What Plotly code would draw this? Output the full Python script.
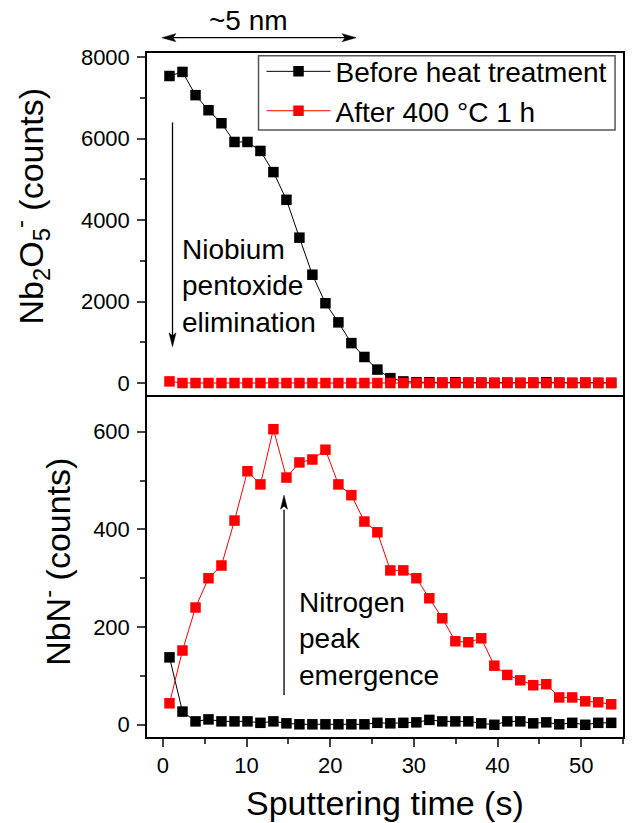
import plotly.graph_objects as go

# ---------------- data ----------------
time_s = [0.79, 2.34, 3.90, 5.45, 7.00, 8.56, 10.11, 11.66, 13.21, 14.77,
          16.32, 17.87, 19.43, 20.98, 22.53, 24.09, 25.64, 27.19, 28.74, 30.30,
          31.85, 33.40, 34.96, 36.51, 38.06, 39.62, 41.17, 42.72, 44.27, 45.83,
          47.38, 48.93, 50.49, 52.04, 53.59]

nb2o5_before = [7540, 7640, 7070, 6700, 6380, 5920, 5920, 5700, 5180, 4500,
                3570, 2660, 1960, 1490, 980, 640, 330, 120, 40, 20,
                20, 10, 20, 10, 10, 5, 10, 5, 10, 20,
                10, 5, 10, 5, 5]
nb2o5_after = [40, 0, 0, 0, 0, 0, 0, 0, 0, 0,
               0, 0, 0, 0, 0, 0, 0, 0, 0, 0,
               0, 0, 0, 0, 0, 0, 0, 0, 0, 0,
               0, 0, 0, 0, 0]

nbn_before = [138, 27, 7, 11, 7, 7, 7, 4, 7, 3,
              1, 1, 1, 1, 1, 1, 4, 3, 4, 5,
              10, 7, 7, 7, 3, 0, 7, 7, 3, 5,
              1, 4, 0, 4, 4]
nbn_after = [44, 152, 240, 300, 326, 418, 519, 492, 605, 506,
             537, 543, 563, 492, 470, 416, 394, 316, 316, 300,
             259, 218, 171, 169, 177, 121, 102, 91, 81, 83,
             56, 56, 48, 46, 42]

series_names = ["Before heat treatment", "After 400 °C 1 h"]
series_colors = ["#000000", "#ff0000"]

top_ticks = [0, 2000, 4000, 6000, 8000]
bottom_ticks = [0, 200, 400, 600]
x_ticks = [0, 10, 20, 30, 40, 50]

FONT = "Liberation Sans, Arial, sans-serif"

fig = go.Figure()

# top panel (Nb2O5-)
for name, vals, col in zip(series_names, [nb2o5_before, nb2o5_after], series_colors):
    fig.add_trace(go.Scatter(
        x=time_s, y=vals, name=name, mode="lines+markers",
        line=dict(color=col, width=1),
        marker=dict(symbol="square", size=10.5, color=col),
        xaxis="x2", yaxis="y2", showlegend=True, cliponaxis=False))

# bottom panel (NbN-)
for name, vals, col in zip(series_names, [nbn_before, nbn_after], series_colors):
    fig.add_trace(go.Scatter(
        x=time_s, y=vals, name=name, mode="lines+markers",
        line=dict(color=col, width=1),
        marker=dict(symbol="square", size=10.5, color=col),
        xaxis="x", yaxis="y", showlegend=False, cliponaxis=False))

axis_common = dict(showline=True, linecolor="black", linewidth=1.5,
                   showgrid=False, zeroline=False,
                   tickfont=dict(family=FONT, size=22, color="black"))

fig.update_layout(
    width=635, height=823,
    margin=dict(l=147, r=10, t=53, b=86),
    paper_bgcolor="white", plot_bgcolor="white",
    font=dict(family=FONT, color="black"),
    xaxis=dict(domain=[0, 1], anchor="y", range=[-1.9, 55.0], mirror=False,
               tickvals=x_ticks, ticks="outside", ticklen=8, tickwidth=1.5,
               minor=dict(dtick=5, tick0=0, ticks="outside", ticklen=5, tickwidth=1.5),
               ticklabelstandoff=0,
               **axis_common),
    xaxis2=dict(domain=[0, 1], anchor="y2", range=[-1.9, 55.0], matches="x", mirror=True,
                showticklabels=False, ticks="", **axis_common),
    yaxis=dict(domain=[0, 0.5], anchor="x", range=[-25, 675], mirror=True,
               tickvals=bottom_ticks, ticks="outside", ticklen=8, tickwidth=1.5,
               minor=dict(dtick=100, tick0=0, ticks="outside", ticklen=5, tickwidth=1.5),
               ticklabelstandoff=3,
               **axis_common),
    yaxis2=dict(domain=[0.5, 1], anchor="x2", range=[-294, 8105], mirror=True,
                tickvals=top_ticks, ticks="outside", ticklen=8, tickwidth=1.5,
                minor=dict(dtick=1000, tick0=0, ticks="outside", ticklen=5, tickwidth=1.5),
                ticklabelstandoff=3,
                **axis_common),
    legend=dict(x=0.2406, y=1.0093, xanchor="left", yanchor="top",
                bgcolor="rgba(0,0,0,0)", borderwidth=0,
                font=dict(family=FONT, size=28, color="black"),
                itemwidth=64, tracegroupgap=0),
)

# legend frame
fig.add_shape(type="rect", xref="paper", yref="paper",
              x0=0.2343, x1=0.9833, y0=0.8874, y1=0.9961,
              line=dict(color="#555555", width=1.5), fillcolor="white", layer="below")

# axis titles as annotations
fig.add_annotation(text="Sputtering time (s)", xref="paper", yref="paper",
                   x=0.501, y=-0.097, xanchor="center", yanchor="middle",
                   showarrow=False, font=dict(family=FONT, size=34, color="black"))
fig.add_annotation(text="Nb<sub>2</sub>O<sub>5</sub><sup>-</sup> (counts)",
                   xref="paper", yref="paper", x=-0.2448, y=0.7763,
                   xanchor="center", yanchor="middle", textangle=-90,
                   showarrow=False, font=dict(family=FONT, size=34, color="black"))
fig.add_annotation(text="NbN<sup>-</sup> (counts)",
                   xref="paper", yref="paper", x=-0.1925, y=0.2566,
                   xanchor="center", yanchor="middle", textangle=-90,
                   showarrow=False, font=dict(family=FONT, size=34, color="black"))

# text annotations
fig.add_annotation(text="Niobium<br>pentoxide<br>elimination", xref="x2", yref="y2",
                   x=2.1, y=2380, xanchor="left", yanchor="middle", align="left",
                   showarrow=False, font=dict(family=FONT, size=28, color="black"))
fig.add_annotation(text="Nitrogen<br>peak<br>emergence", xref="x", yref="y",
                   x=16.0, y=176, xanchor="left", yanchor="middle", align="left",
                   showarrow=False, font=dict(family=FONT, size=28, color="black"))
fig.add_annotation(text="~5 nm", xref="x", yref="paper",
                   x=10.2, y=1.0468, xanchor="center", yanchor="middle",
                   showarrow=False, font=dict(family=FONT, size=28, color="black"))

# arrows (shafts + heads)
LW = 1.3
fig.add_shape(type="line", xref="x2", yref="y2", x0=1.15, x1=1.15, y0=6400, y1=1100,
              line=dict(color="black", width=LW))
fig.add_shape(type="path", xref="x2", yref="y2", xsizemode="pixel", ysizemode="pixel",
              xanchor=1.15, yanchor=890, path="M0,0 L-3.5,14 L0,11 L3.5,14 Z",
              fillcolor="black", line=dict(color="black", width=0.5))

fig.add_shape(type="line", xref="x", yref="y", x0=14.48, x1=14.48, y0=61, y1=440,
              line=dict(color="black", width=LW))
fig.add_shape(type="path", xref="x", yref="y", xsizemode="pixel", ysizemode="pixel",
              xanchor=14.48, yanchor=470, path="M0,0 L-3.5,-14 L0,-11 L3.5,-14 Z",
              fillcolor="black", line=dict(color="black", width=0.5))

fig.add_shape(type="line", xref="x", yref="paper", x0=0.5, x1=22.5, y0=1.0224, y1=1.0224,
              line=dict(color="black", width=LW))
fig.add_shape(type="path", xref="x", yref="paper", xsizemode="pixel", ysizemode="pixel",
              xanchor=-0.12, yanchor=1.0224, path="M0,0 L14,4 L11,0 L14,-4 Z",
              fillcolor="black", line=dict(color="black", width=0.5))
fig.add_shape(type="path", xref="x", yref="paper", xsizemode="pixel", ysizemode="pixel",
              xanchor=23.1, yanchor=1.0224, path="M0,0 L-14,4 L-11,0 L-14,-4 Z",
              fillcolor="black", line=dict(color="black", width=0.5))

fig.write_html("out.html")
